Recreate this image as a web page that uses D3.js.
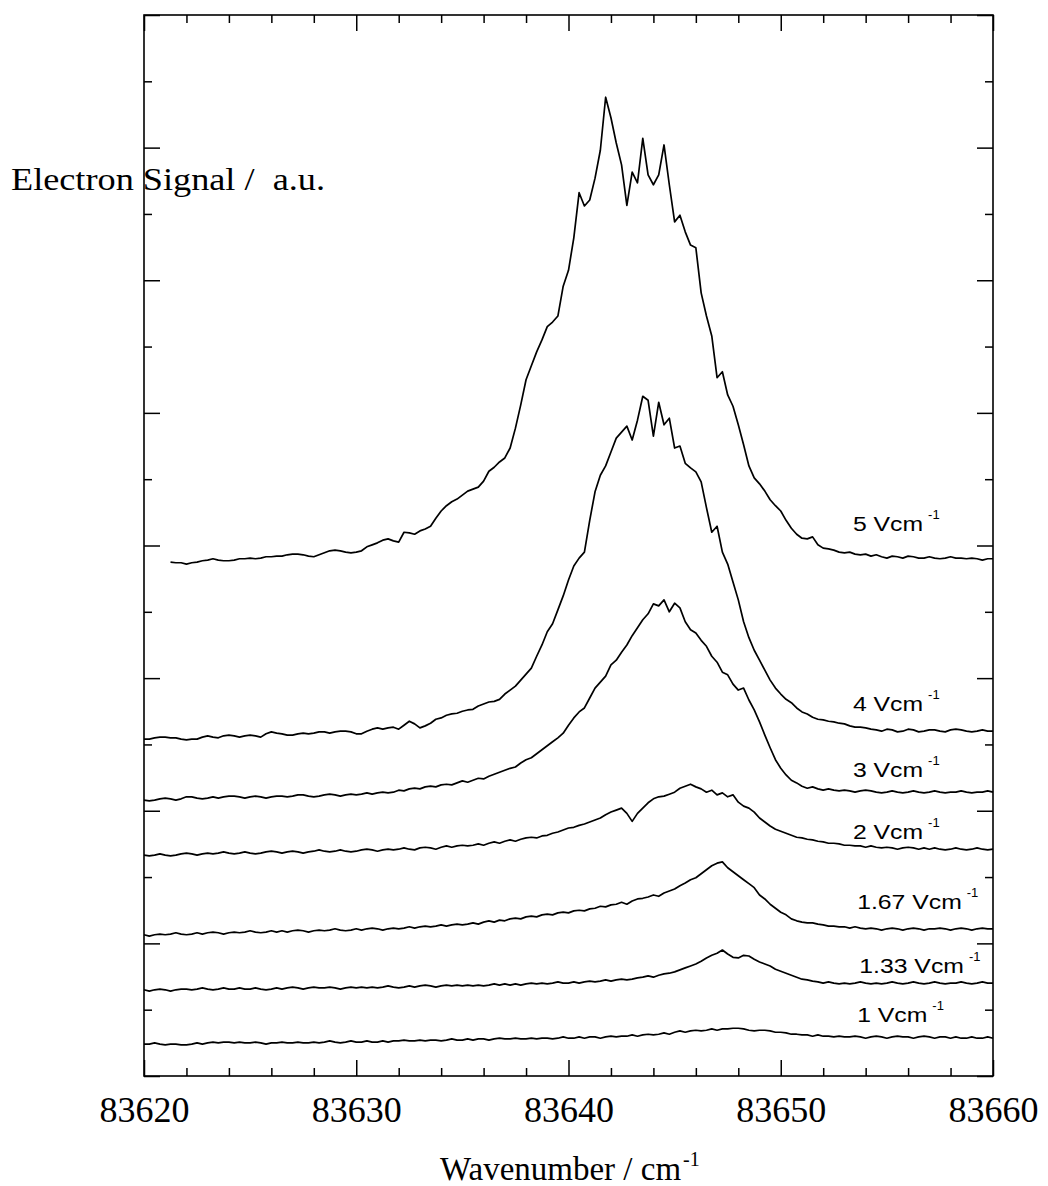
<!DOCTYPE html>
<html>
<head>
<meta charset="utf-8">
<script src="https://cdn.jsdelivr.net/npm/d3@7"></script>
<style>
  body { margin: 0; background: #fff; }
  svg text { white-space: pre; }
</style>
</head>
<body>
<svg id="chart" width="1048" height="1186"></svg>
<script>
// Field strengths of the seven scans (bottom to top)
const fieldLabels = ["1", "1.33", "1.67", "2", "3", "4", "5"];
// Sampling of each scan in cm^-1
const sampleStep = 0.25;
const scanStart = [83620, 83620, 83620, 83620, 83620, 83620, 83621.25];

// Electron signal, offset counts, one value per sample
const signal1 = [
  48,48,50,48,47,48,48,47,47,48, 50,48,50,51,50,51,51,50,51,50,
  50,51,50,48,50,50,51,50,50,51, 50,50,51,50,51,53,51,50,51,53,
  51,51,53,51,51,53,51,53,53,54, 53,53,54,53,54,54,53,54,56,54,
  54,56,54,56,56,54,56,57,56,56, 57,56,56,57,56,57,57,56,57,59,
  57,57,59,57,59,59,57,59,60,59, 60,60,62,60,62,63,62,63,65,63,
  66,68,66,68,69,68,69,71,69,71, 71,72,72,71,69,68,69,69,68,66,
  66,65,63,63,62,62,60,62,60,60, 59,60,59,59,60,59,57,59,60,59,
  57,59,60,59,59,57,59,60,59,57, 59,59,57,59,57,57,59,57,57,59,
  57
];
const signal133 = [
  130,128,130,131,130,128,130,131,131,130, 131,133,131,130,131,133,131,131,133,131,
  131,133,131,130,131,133,131,133,134,133, 131,133,134,133,133,134,133,131,133,134,
  133,134,133,134,133,134,136,134,133,134, 136,134,136,137,136,134,136,137,136,137,
  136,137,136,137,136,137,139,137,139,137, 139,137,139,140,139,140,139,140,142,140,
  140,142,140,142,143,142,143,145,143,145, 146,145,146,148,149,151,149,152,154,155,
  157,160,163,166,169,173,178,182,185,190, 184,179,178,182,181,176,172,169,166,161,
  158,155,152,149,146,145,143,142,140,142, 140,139,140,139,140,142,140,139,140,139,
  140,142,140,139,140,142,140,139,140,142, 140,139,140,140,142,140,139,140,142,140,
  140
];
const signal167 = [
  213,211,213,214,213,214,216,214,213,214, 216,214,216,217,216,214,216,217,216,217,
  219,217,216,217,219,217,219,217,219,220, 219,217,219,220,219,220,222,220,219,220,
  222,220,222,223,222,220,222,223,222,223, 225,223,225,226,225,226,228,226,228,229,
  228,229,231,229,232,234,232,235,234,237, 238,237,240,241,240,243,244,243,246,247,
  246,249,250,249,252,253,256,255,258,259, 262,259,264,267,268,270,273,271,276,279,
  282,287,291,296,299,305,311,317,321,323, 314,308,302,296,290,284,273,267,259,253,
  247,243,237,234,232,231,231,229,228,226, 226,225,225,223,225,223,222,223,222,220,
  222,223,222,220,222,223,222,220,222,222, 223,222,220,222,223,222,220,222,223,222,
  222
];
const signal2 = [
  333,332,333,335,333,332,333,335,336,335, 333,335,336,335,336,338,336,335,336,338,
  336,335,336,338,339,338,336,338,339,338, 336,338,339,341,339,338,339,341,339,338,
  339,341,342,341,339,341,342,341,342,344, 342,341,344,345,344,342,345,347,345,347,
  348,347,348,350,348,351,353,351,354,356, 354,357,359,360,359,362,363,366,368,371,
  374,375,378,380,383,386,389,394,398,401, 404,396,384,396,404,412,418,421,422,425,
  428,434,437,440,436,433,428,431,424,427, 421,424,413,407,404,398,389,383,377,372,
  369,366,363,360,359,357,356,354,353,351, 351,350,348,348,347,347,345,347,345,344,
  345,344,342,344,345,344,342,344,342,344, 342,341,342,344,342,341,342,344,342,341,
  342
];
const signal3 = [
  416,415,416,418,419,418,416,418,421,421, 419,418,419,421,419,421,422,422,421,419,
  421,422,421,419,421,422,422,421,422,424, 424,422,421,422,424,425,424,422,424,425,
  424,425,427,425,427,428,427,428,431,430, 433,434,433,436,437,436,439,440,439,442,
  445,443,446,449,448,452,455,458,461,464, 466,472,477,480,486,492,498,504,510,517,
  529,540,549,555,570,585,594,603,620,627, 639,650,664,676,688,697,712,709,718,700,
  713,706,685,673,668,657,648,633,624,609, 605,591,582,585,567,552,534,514,495,477,
  464,454,446,442,437,434,436,433,431,433, 431,430,431,430,428,430,431,430,428,427,
  428,430,428,427,428,430,428,427,428,430, 428,427,428,428,430,428,427,428,428,430,
  428
];
const signal4 = [
  508,508,510,511,511,510,510,508,507,508, 508,511,513,511,510,513,514,513,511,513,
  514,513,511,516,519,517,516,514,514,516, 517,516,517,519,519,517,519,520,520,519,
  516,516,520,523,525,523,525,526,523,529, 535,531,525,528,532,538,540,544,546,547,
  550,552,553,558,561,564,565,568,576,582, 588,597,606,615,633,650,670,682,703,724,
  748,769,781,790,838,881,906,920,941,962, 971,980,959,989,1025,1019,965,1016,982,992,
  947,950,924,917,911,896,857,820,829,790, 772,745,718,685,661,642,627,612,597,585,
  576,568,563,555,549,546,541,538,537,535, 534,532,531,528,526,526,525,523,522,520,
  523,522,519,520,523,522,519,520,522,522, 520,519,522,523,522,520,519,520,522,520,
  520
];
const signal5 = [
  775,774,774,772,774,775,777,778,780,778, 777,777,778,780,780,781,780,781,783,783,
  784,784,786,787,787,786,784,783,786,789, 792,793,792,790,789,790,792,798,801,804,
  808,810,807,805,820,819,817,822,825,829, 841,852,860,866,870,876,882,885,888,897,
  912,918,926,932,947,977,1012,1050,1071,1092, 1110,1130,1137,1146,1191,1215,1264,1332,1312,1321,
  1354,1396,1476,1445,1407,1374,1313,1363,1347,1414, 1359,1344,1359,1404,1344,1288,1298,1273,1253,1249,
  1181,1146,1116,1053,1062,1027,1010,982,952,920, 902,893,882,869,860,852,838,826,817,811,
  810,813,801,796,795,793,790,789,790,787, 786,787,784,786,783,781,784,783,781,784,
  783,781,781,783,781,780,781,783,781,781, 780,781,780,778,780,780
];

// Where each field label sits (wavenumber, signal level)
const labelWavenumber = [83653.6, 83653.7, 83653.6, 83653.4, 83653.4, 83653.4, 83653.4];
const labelLevel = [81, 155, 252, 357, 451, 550, 822];

// Axis ticks
const xMajorTicks = [83620, 83630, 83640, 83650, 83660];
const xMinorTicks = d3.range(83622, 83660, 2).filter(v => v % 10 !== 0);
const yMajorTicks = d3.range(0, 1601, 200);
const yMinorTicks = d3.range(100, 1600, 200);

const signals = [signal1, signal133, signal167, signal2, signal3, signal4, signal5];
const series = signals.map((vals, k) =>
  vals.map((v, i) => ({ w: scanStart[k] + i * sampleStep, v })));

const svg = d3.select("#chart");
const plotLeft = 144, plotRight = 993, plotTop = 15, plotBottom = 1076;

const x = d3.scaleLinear().domain([83620, 83660]).range([plotLeft, plotRight]);
const y = d3.scaleLinear().domain([0, 1600]).range([plotBottom, plotTop]);

const serif = "'Liberation Serif', 'Times New Roman', serif";
const sans = "'Liberation Sans', Arial, sans-serif";

// y-axis title (drawn first so the frame runs through it)
svg.append("text")
  .attr("x", 11).attr("y", 190)
  .attr("font-family", serif).attr("font-size", 32)
  .attr("textLength", 314).attr("lengthAdjust", "spacingAndGlyphs")
  .attr("fill", "#000")
  .text("Electron Signal /  a.u.");

// Spectra
const line = d3.line().x(d => x(d.w)).y(d => y(d.v));
svg.append("g")
  .selectAll("path")
  .data(series)
  .join("path")
  .attr("d", line)
  .attr("fill", "none")
  .attr("stroke", "#000")
  .attr("stroke-width", 1.7)
  .attr("stroke-linejoin", "round");

// Frame ticks
function styleAxis(g) {
  g.select(".domain").remove();
  g.selectAll(".tick line").attr("stroke", "#000").attr("stroke-width", 1.5);
}
const noLabel = () => "";

svg.append("g").attr("transform", `translate(0,${plotBottom})`)
  .call(d3.axisBottom(x).tickValues(xMajorTicks).tickSize(-16).tickPadding(20).tickFormat(d3.format("d")))
  .call(styleAxis)
  .call(g => g.selectAll(".tick text")
    .attr("font-family", serif).attr("font-size", 36).attr("fill", "#000"));
svg.append("g").attr("transform", `translate(0,${plotBottom})`)
  .call(d3.axisBottom(x).tickValues(xMinorTicks).tickSize(-8).tickFormat(noLabel))
  .call(styleAxis);

svg.append("g").attr("transform", `translate(0,${plotTop})`)
  .call(d3.axisTop(x).tickValues(xMajorTicks).tickSize(-16).tickFormat(noLabel))
  .call(styleAxis);
svg.append("g").attr("transform", `translate(0,${plotTop})`)
  .call(d3.axisTop(x).tickValues(xMinorTicks).tickSize(-8).tickFormat(noLabel))
  .call(styleAxis);

svg.append("g").attr("transform", `translate(${plotLeft},0)`)
  .call(d3.axisLeft(y).tickValues(yMajorTicks).tickSize(-16).tickFormat(noLabel))
  .call(styleAxis);
svg.append("g").attr("transform", `translate(${plotLeft},0)`)
  .call(d3.axisLeft(y).tickValues(yMinorTicks).tickSize(-8).tickFormat(noLabel))
  .call(styleAxis);

svg.append("g").attr("transform", `translate(${plotRight},0)`)
  .call(d3.axisRight(y).tickValues(yMajorTicks).tickSize(-16).tickFormat(noLabel))
  .call(styleAxis);
svg.append("g").attr("transform", `translate(${plotRight},0)`)
  .call(d3.axisRight(y).tickValues(yMinorTicks).tickSize(-8).tickFormat(noLabel))
  .call(styleAxis);

// Frame
svg.append("rect")
  .attr("x", plotLeft).attr("y", plotTop)
  .attr("width", plotRight - plotLeft).attr("height", plotBottom - plotTop)
  .attr("fill", "none").attr("stroke", "#000").attr("stroke-width", 1.6);

// x-axis title
const xTitle = svg.append("text")
  .attr("x", 440).attr("y", 1180)
  .attr("font-family", serif).attr("font-size", 33).attr("fill", "#000");
xTitle.append("tspan").text("Wavenumber / cm");
xTitle.append("tspan").attr("dx", 2).attr("dy", -14).attr("font-size", 20).text("-1");

// Field labels
const stretch = 1.18;
const labels = svg.append("g")
  .selectAll("g")
  .data(fieldLabels)
  .join("g")
  .attr("transform", (d, k) => `translate(${x(labelWavenumber[k])},${y(labelLevel[k])})`);

labels.each(function (d) {
  const g = d3.select(this);
  const t = g.append("text")
    .attr("font-family", sans).attr("font-size", 21).attr("fill", "#000")
    .attr("transform", `scale(${stretch},1)`)
    .text(`${d} Vcm`);
  const w = t.node().getComputedTextLength() * stretch;
  g.append("text")
    .attr("x", w + 5).attr("y", -12)
    .attr("font-family", sans).attr("font-size", 13).attr("fill", "#000")
    .text("-1");
});
</script>
</body>
</html>
